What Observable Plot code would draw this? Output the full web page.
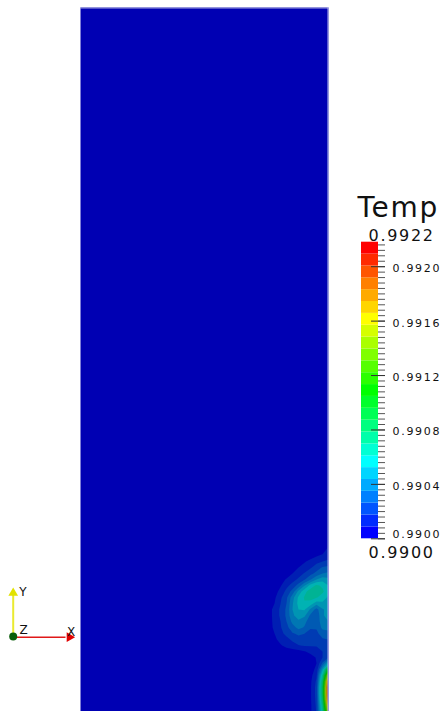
<!DOCTYPE html>
<html><head><meta charset="utf-8">
<script src="https://cdn.jsdelivr.net/npm/d3@7"></script>
<script src="https://cdn.jsdelivr.net/npm/@observablehq/plot@0.6"></script>
<style>
html,body{margin:0;padding:0;background:#fff;}
#root{position:relative;width:448px;height:711px;overflow:hidden;font-family:"DejaVu Sans",sans-serif;}
#root svg{position:absolute;overflow:visible;}
#bar text{letter-spacing:1.7px;}
</style></head><body><div id="root"></div>
<script>
// ---- colour map range (Temp) ----
const rangeMin = 0.99;
const rangeMax = 0.99218;
const nBands = 25;
const majorTicks = [0.99, 0.9904, 0.9908, 0.9912, 0.9916, 0.992];
const minorStep = 0.00004;

// ---- temperature field near the plume (rows top->bottom, y = 549..711 px of view, step 6) ----
// columns at x = 262,268,...,328 (right wall)
const plumeRows = [
[0.99,0.99,0.99,0.99,0.99,0.99,0.99,0.99,0.99,0.99,0.990026,0.990122],
[0.99,0.99,0.99,0.99,0.99,0.99,0.99,0.990017,0.990044,0.990074,0.990105,0.990140],
[0.99,0.99,0.99,0.99,0.99,0.99,0.990026,0.990078,0.990113,0.990148,0.990174,0.990192],
[0.99,0.99,0.99,0.99,0.99,0.990035,0.990087,0.990122,0.990161,0.990218,0.990270,0.990288],
[0.99,0.99,0.99,0.99,0.990044,0.990087,0.990131,0.990183,0.990235,0.990288,0.990349,0.990366],
[0.99,0.99,0.99,0.990052,0.990096,0.990140,0.990192,0.990253,0.990340,0.990436,0.990488,0.990462],
[0.99,0.99,0.990026,0.990078,0.990148,0.990209,0.990296,0.990427,0.990558,0.990628,0.990593,0.990523],
[0.99,0.990009,0.990052,0.990113,0.990201,0.990296,0.990462,0.990584,0.990654,0.990680,0.990628,0.990549],
[0.99,0.990017,0.990070,0.990157,0.990244,0.990401,0.990541,0.990619,0.990645,0.990619,0.990567,0.990506],
[0.990004,0.990035,0.990087,0.990174,0.990262,0.990427,0.990549,0.990602,0.990567,0.990471,0.990506,0.990480],
[0.990009,0.990052,0.990113,0.990192,0.990279,0.990436,0.990523,0.990532,0.990419,0.990314,0.990427,0.990462],
[0.990009,0.990052,0.990113,0.990192,0.990279,0.990419,0.990480,0.990453,0.990331,0.990279,0.990427,0.990462],
[0.990009,0.990052,0.990109,0.990174,0.990262,0.990375,0.990419,0.990375,0.990296,0.990279,0.990410,0.990436],
[0.990009,0.990048,0.990105,0.990166,0.990235,0.990314,0.990375,0.990340,0.990270,0.990270,0.990375,0.990392],
[0.990004,0.990039,0.990087,0.990148,0.990201,0.990253,0.990279,0.990262,0.990235,0.990244,0.990296,0.990305],
[0.99,0.990026,0.990070,0.990113,0.990148,0.990192,0.990227,0.990244,0.990227,0.990227,0.990253,0.990262],
[0.99,0.990009,0.990035,0.990078,0.990113,0.990140,0.990170,0.990183,0.990183,0.990183,0.990201,0.990209],
[0.99,0.99,0.990009,0.990026,0.990044,0.990052,0.990061,0.990083,0.990105,0.990131,0.990174,0.990209],
[0.99,0.99,0.99,0.99,0.990009,0.990017,0.990035,0.990044,0.990061,0.990092,0.990174,0.990262],
[0.99,0.99,0.99,0.99,0.99,0.99,0.990009,0.990017,0.990035,0.990087,0.990279,0.990523],
[0.99,0.99,0.99,0.99,0.99,0.99,0.990009,0.990017,0.990044,0.990113,0.990480,0.991046],
[0.99,0.99,0.99,0.99,0.99,0.99,0.990009,0.990022,0.990057,0.990157,0.990654,0.991570],
[0.99,0.99,0.99,0.99,0.99,0.99,0.990009,0.990026,0.990070,0.990192,0.990767,0.992006],
[0.99,0.99,0.99,0.99,0.99,0.99,0.990009,0.990026,0.990074,0.990209,0.990828,0.992171],
[0.99,0.99,0.99,0.99,0.99,0.99,0.990009,0.990026,0.990074,0.990209,0.990828,0.992171],
[0.99,0.99,0.99,0.99,0.99,0.99,0.990009,0.990026,0.990074,0.990201,0.990785,0.992093],
[0.99,0.99,0.99,0.99,0.99,0.99,0.990009,0.990026,0.990070,0.990192,0.990698,0.991831],
[0.99,0.99,0.99,0.99,0.99,0.99,0.990009,0.990026,0.990070,0.990183,0.990654,0.991570]
];
// thin warm layer along the right wall (rows top->bottom, y = 9..549 step 60; x = 324, 328)
const wallRows = [
[0.99,0.99],[0.99,0.990113],[0.99,0.990122],[0.99,0.990122],[0.99,0.990122],
[0.99,0.990122],[0.99,0.990122],[0.99,0.990122],[0.99,0.990122],[0.99,0.990122]
];

// ---- colours: rainbow (HSV blue -> red) in discrete bands ----
const bandStep = (rangeMax - rangeMin) / nBands;
const thresholds = d3.range(1, nBands).map(k => rangeMin + k * bandStep);
const barColors = d3.range(nBands).map(k => d3.hsl(240 * (1 - k / (nBands - 1)), 1, 0.5).formatHex());
const shade = 0.7;
const fieldColors = barColors.map(c => { const r = d3.rgb(c); return d3.rgb(r.r * shade, r.g * shade, r.b * shade).formatHex(); });

const root = document.getElementById("root");

// ---- main field ----
const plumeFlat = plumeRows.slice().reverse().flat();
const wallFlat = wallRows.slice().reverse().flat();
const field = Plot.plot({
  width: 248, height: 704, margin: 0,
  style: {background: "transparent"},
  x: {domain: [0, 248], axis: null},
  y: {domain: [0, 704], axis: null},
  color: {type: "threshold", domain: thresholds, range: fieldColors},
  marks: [
    Plot.frame({fill: fieldColors[0], stroke: "none"}),
    Plot.contour(wallFlat, {width: 2, height: 10, x1: 242, x2: 250, y1: 132, y2: 732, fill: Plot.identity, thresholds, clip: true}),
    Plot.contour(plumeFlat, {width: 12, height: 28, x1: 179, x2: 251, y1: -3, y2: 165, fill: Plot.identity, thresholds, clip: true}),
    Plot.ruleY([704], {stroke: "#a8a8e0", dy: 0.5}),
    Plot.ruleX([248], {stroke: "#b8b8ea", dx: -0.5})
  ]
});
field.style.left = "80px"; field.style.top = "7px";
root.appendChild(field);

// ---- colour bar ----
const bands = d3.range(nBands).map(k => ({lo: rangeMin + k * bandStep, hi: rangeMin + (k + 1) * bandStep}));
const minorTicks = d3.range(0, Math.floor((rangeMax - rangeMin) / minorStep + 1e-6) + 1).map(i => rangeMin + i * minorStep);
const txt = {fontFamily: "DejaVu Sans", fill: "#111", textAnchor: "start", lineAnchor: "bottom"};
const bar = Plot.plot({
  width: 108, height: 375, marginTop: 51.7, marginBottom: 26.7, marginLeft: 0, marginRight: 0,
  style: {background: "transparent"},
  x: {domain: [0, 108], axis: null},
  y: {domain: [rangeMin, rangeMax], axis: null},
  color: {type: "threshold", domain: thresholds, range: barColors},
  marks: [
    Plot.rect(bands, {x1: 21, x2: 38, y1: "lo", y2: "hi", fill: "lo"}),
    Plot.ruleY(minorTicks, {x1: 38, x2: 45, stroke: "#555"}),
    Plot.ruleY(majorTicks, {x1: 31, x2: 45, stroke: "#333"}),
    Plot.text(majorTicks.slice(1), {...txt, x: 52, y: d => d, text: d => d.toFixed(4), fontSize: 11, dy: 5.5}),
    Plot.text(majorTicks.slice(0, 1), {...txt, x: 52, y: d => d, text: d => d.toFixed(4), fontSize: 11, dy: -0.5}),
    Plot.text(["Temp"], {...txt, x: 17, y: rangeMax, text: d => d, fontSize: 28, dy: -25}),
    Plot.text([rangeMax], {...txt, x: 28, y: d => d, text: d => d.toFixed(4), fontSize: 16, dy: -1.7}),
    Plot.text([rangeMin], {...txt, x: 28, y: d => d, text: d => d.toFixed(4), fontSize: 16, dy: 18.7})
  ]
});
bar.id = "bar";
bar.style.left = "340px"; bar.style.top = "190px";
root.appendChild(bar);

// ---- orientation axes triad ----
const tri = {fontFamily: "DejaVu Sans", fontSize: 12, fill: "#111", textAnchor: "middle", lineAnchor: "middle"};
const triad = Plot.plot({
  width: 90, height: 72, margin: 0,
  style: {background: "transparent"},
  x: {domain: [0, 90], axis: null},
  y: {domain: [0, 72], range: [0, 72], axis: null},
  marks: [
    Plot.link([0], {x1: 12.7, y1: 55, x2: 12.7, y2: 16, stroke: "#eaea30", strokeWidth: 2}),
    Plot.dot([0], {x: 12.7, y: 14.5, symbol: "triangle", r: 3.6, fill: "#e2e200", stroke: "none"}),
    Plot.link([0], {x1: 16, y1: 58.7, x2: 65, y2: 58.7, stroke: "#e01818", strokeWidth: 1.5}),
    Plot.dot([0], {x: 69, y: 58.7, symbol: "triangle", r: 3.6, rotate: 90, fill: "#e00000", stroke: "none"}),
    Plot.dot([0], {x: 12.7, y: 58, r: 4, fill: "#0b5e0b", stroke: "none"}),
    Plot.text(["Y"], {...tri, x: 22.5, y: 13.5, text: d => d}),
    Plot.text(["Z"], {...tri, x: 23, y: 52, text: d => d}),
    Plot.text(["X"], {...tri, x: 70.5, y: 54, text: d => d})
  ]
});
triad.style.left = "0px"; triad.style.top = "578px";
root.appendChild(triad);
</script></body></html>
